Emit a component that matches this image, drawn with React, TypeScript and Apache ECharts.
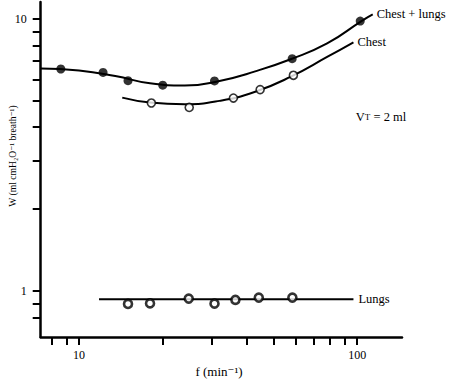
import React, { useEffect, useRef } from "react";
import * as echarts from "echarts";

// Measured points (f in min^-1, W in ml cmH2O^-1 breath^-1)
const chestLungsF = [8.6, 12.2, 15.0, 20.0, 30.7, 58.4, 102.6];
const chestLungsW = [6.55, 6.36, 5.93, 5.71, 5.92, 7.15, 9.83];
const chestF = [18.2, 24.9, 35.9, 44.8, 59.0];
const chestW = [4.91, 4.73, 5.12, 5.5, 6.21];
const lungsF = [15.0, 18.0, 24.8, 30.7, 36.5, 44.3, 58.5];
const lungsW = [0.896, 0.9, 0.937, 0.898, 0.927, 0.945, 0.945];

// Fitted curves
const chestLungsCurveF = [7.28, 10, 13.5, 18, 24, 32, 43, 58, 78, 104, 113.8];
const chestLungsCurveW = [6.58, 6.47, 6.17, 5.8, 5.69, 5.92, 6.42, 7.13, 8.13, 9.85, 10.4];
const chestCurveF = [14.3, 18, 24, 32, 43, 58, 78, 97];
const chestCurveW = [5.14, 4.93, 4.86, 5.0, 5.4, 6.15, 7.25, 8.21];
const lungsCurveF = [11.8, 97];
const lungsCurveW = [0.932, 0.932];

// Axis ticks
const xTicks = [8, 9, 10, 20, 30, 40, 50, 60, 70, 80, 90, 100];
const xLabels = [10, 100];
const yTicks = [0.8, 0.9, 1, 2, 3, 4, 5, 6, 7, 8, 9, 10];
const yLabels = [1, 10];
const xRange = [7.28, 145];
const yRange = [0.677, 11.55];

const FONT = '"Liberation Serif", "DejaVu Serif", serif';
const lg = (v: number) => Math.log10(v);
const pts = (xs: number[], ys: number[]) => xs.map((x, i) => [lg(x), lg(ys[i])]);

export default function App() {
  const ref = useRef<HTMLDivElement>(null);
  useEffect(() => {
    if (!ref.current) return;
    const chart = echarts.init(ref.current, undefined, { renderer: "svg" });
    const axisCommon = {
      type: "value" as const,
      axisLine: { onZero: false, lineStyle: { color: "#000", width: 2.5 } },
      splitLine: { show: false },
    };
    const lbl = (text: string, dist: number) => ({
      show: true,
      formatter: text,
      distance: dist,
      fontFamily: FONT,
      fontSize: 12.5,
      color: "#000",
    });
    chart.setOption({
      animation: false,
      backgroundColor: "#fff",
      grid: { left: 40.7, right: 50, top: 2, bottom: 47 },
      xAxis: {
        ...axisCommon,
        min: lg(xRange[0]),
        max: lg(xRange[1]),
        axisTick: { customValues: xTicks.map(lg), length: 8, lineStyle: { color: "#000", width: 2 } },
        axisLabel: {
          customValues: xLabels.map(lg),
          formatter: (v: number) => String(Math.round(Math.pow(10, v))),
          margin: 12,
          fontFamily: FONT,
          fontSize: 12,
          color: "#000",
        },
      },
      yAxis: {
        ...axisCommon,
        min: lg(yRange[0]),
        max: lg(yRange[1]),
        axisTick: { customValues: yTicks.map(lg), length: 8, lineStyle: { color: "#000", width: 2 } },
        axisLabel: {
          customValues: yLabels.map(lg),
          formatter: (v: number) => String(Math.round(Math.pow(10, v))),
          margin: 14,
          fontFamily: FONT,
          fontSize: 12,
          color: "#000",
        },
      },
      graphic: [
        {
          type: "text",
          x: 12,
          y: 156,
          rotation: Math.PI / 2,
          style: {
            text: "W (ml cmH₂O⁻¹ breath⁻¹)",
            fontFamily: FONT,
            fontSize: 9.6,
            fill: "#000",
            align: "center",
            verticalAlign: "middle",
          },
        },
        {
          type: "text",
          x: 219,
          y: 371,
          style: {
            text: "f (min⁻¹)",
            fontFamily: FONT,
            fontSize: 13,
            fill: "#000",
            align: "center",
            verticalAlign: "middle",
          },
        },
        {
          type: "text",
          x: 381,
          y: 117,
          style: {
            text: "V{s|T} = 2 ml",
            fontFamily: FONT,
            fontSize: 12.5,
            fill: "#000",
            align: "center",
            verticalAlign: "middle",
            rich: { s: { fontSize: 9, fontFamily: FONT, fill: "#000" } },
          },
        },
      ],
      series: [
        {
          type: "line",
          data: pts(chestLungsCurveF, chestLungsCurveW),
          smooth: 0.5,
          showSymbol: false,
          lineStyle: { color: "#000", width: 2 },
          endLabel: lbl("Chest + lungs", 4),
          z: 2,
        },
        {
          type: "line",
          data: pts(chestCurveF, chestCurveW),
          smooth: 0.5,
          showSymbol: false,
          lineStyle: { color: "#000", width: 2 },
          endLabel: lbl("Chest", 4),
          z: 2,
        },
        {
          type: "line",
          data: pts(lungsCurveF, lungsCurveW),
          showSymbol: false,
          lineStyle: { color: "#000", width: 2 },
          endLabel: lbl("Lungs", 5),
          z: 2,
        },
        {
          type: "scatter",
          data: pts(chestLungsF, chestLungsW),
          symbol: "circle",
          symbolSize: 9,
          itemStyle: { color: "#000" },
          z: 3,
        },
        {
          type: "scatter",
          data: pts(chestF, chestW),
          symbol: "circle",
          symbolSize: 8,
          itemStyle: { color: "#fff", borderColor: "#000", borderWidth: 1.6 },
          z: 3,
        },
        {
          type: "scatter",
          data: pts(lungsF, lungsW),
          symbol: "circle",
          symbolSize: 8,
          itemStyle: { color: "#fff", borderColor: "#000", borderWidth: 2.6 },
          z: 3,
        },
      ],
    });
    return () => chart.dispose();
  }, []);
  return (
    <div
      ref={ref}
      style={{ position: "fixed", left: 0, top: 0, width: 452, height: 384 }}
    />
  );
}
